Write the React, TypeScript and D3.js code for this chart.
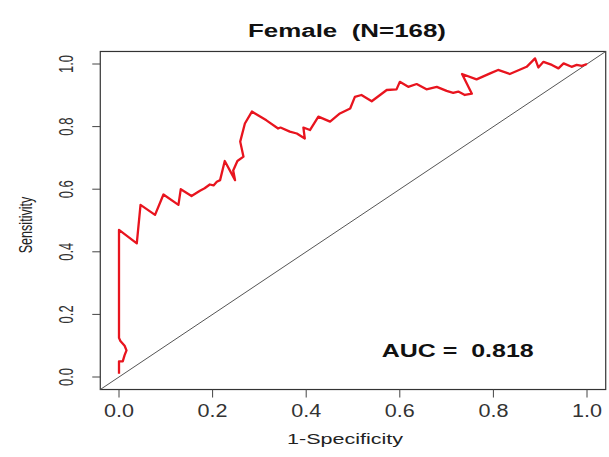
import React from "react";
import * as d3 from "d3";

const fpr: number[] = [0, 0, 0.008, 0.012, 0.016, 0.012, 0.003, 0, 0, 0.038, 0.046, 0.077, 0.095, 0.127, 0.132, 0.155, 0.173, 0.183, 0.194, 0.202, 0.209, 0.216, 0.226, 0.248, 0.244, 0.253, 0.266, 0.259, 0.269, 0.284, 0.315, 0.34, 0.345, 0.365, 0.38, 0.397, 0.394, 0.408, 0.426, 0.451, 0.472, 0.494, 0.504, 0.518, 0.54, 0.572, 0.593, 0.6, 0.618, 0.636, 0.657, 0.679, 0.7, 0.714, 0.725, 0.739, 0.754, 0.733, 0.764, 0.793, 0.81, 0.835, 0.871, 0.889, 0.896, 0.907, 0.925, 0.939, 0.95, 0.967, 0.978, 0.989, 1];
const tpr: number[] = [0.01, 0.05, 0.05, 0.07, 0.085, 0.1, 0.115, 0.125, 0.47, 0.427, 0.55, 0.518, 0.583, 0.55, 0.6, 0.578, 0.595, 0.603, 0.615, 0.612, 0.624, 0.629, 0.69, 0.629, 0.66, 0.69, 0.704, 0.752, 0.81, 0.848, 0.82, 0.794, 0.797, 0.784, 0.778, 0.762, 0.797, 0.789, 0.832, 0.816, 0.842, 0.858, 0.895, 0.901, 0.881, 0.917, 0.919, 0.943, 0.927, 0.936, 0.919, 0.927, 0.914, 0.908, 0.912, 0.901, 0.905, 0.968, 0.951, 0.97, 0.981, 0.968, 0.991, 1.018, 0.989, 1.007, 0.997, 0.986, 1.002, 0.991, 0.997, 0.994, 1];
const xTicks: number[] = [0, 0.2, 0.4, 0.6, 0.8, 1.0];
const yTicks: number[] = [0, 0.2, 0.4, 0.6, 0.8, 1.0];
const title = "Female  (N=168)";
const aucLabel = "AUC =  0.818";
const xLabel = "1-Specificity";
const yLabel = "Sensitivity";

export default function App() {
  const x = d3.scaleLinear().domain([0, 1]).range([119, 587]);
  const y = d3.scaleLinear().domain([0, 1]).range([377, 64]);
  const lo = -0.04, hi = 1.04;
  const pts: [number, number][] = fpr.map((f, i) => [f, tpr[i]]);
  const line = d3.line<[number, number]>().x(d => x(d[0])).y(d => y(d[1]));
  const font = "'Liberation Sans', Arial, Helvetica, sans-serif";
  return (
    <svg width={609} height={457} style={{ position: "absolute", left: 0, top: 0, background: "#fff" }} fontFamily={font}>
      <rect x={x(lo)} y={y(hi)} width={x(hi) - x(lo)} height={y(lo) - y(hi)} fill="none" stroke="#333" strokeWidth={1.2} />
      <line x1={x(lo)} y1={y(lo)} x2={x(hi)} y2={y(hi)} stroke="#555" strokeWidth={1} />
      <path d={line(pts) || ""} fill="none" stroke="#e8141e" strokeWidth={2.3} strokeLinejoin="round" />
      {xTicks.map(t => (
        <g key={"x" + t}>
          <line x1={x(t)} x2={x(t)} y1={y(lo)} y2={y(lo) + 8} stroke="#444" strokeWidth={1} />
          <text x={x(t) - 15} y={416.5} fontSize={18} fill="#333" textLength={30} lengthAdjust="spacingAndGlyphs">{t.toFixed(1)}</text>
        </g>
      ))}
      {yTicks.map(t => (
        <g key={"y" + t}>
          <line x1={x(lo) - 8} x2={x(lo)} y1={y(t)} y2={y(t)} stroke="#444" strokeWidth={1} />
          <text transform={`translate(72.5, ${y(t)}) scale(1.5, 1) rotate(-90)`} textAnchor="middle" fontSize={13} fill="#333">{t.toFixed(1)}</text>
        </g>
      ))}
      <text x={248} y={37} fontSize={18} fontWeight="bold" fill="#111" textLength={198} lengthAdjust="spacingAndGlyphs" style={{ whiteSpace: "pre" }}>{title}</text>
      <text x={381.7} y={356.7} fontSize={18.5} fontWeight="bold" fill="#111" textLength={152} lengthAdjust="spacingAndGlyphs" style={{ whiteSpace: "pre" }}>{aucLabel}</text>
      <text x={287} y={444} fontSize={15} fill="#222" textLength={116} lengthAdjust="spacingAndGlyphs">{xLabel}</text>
      <text transform={`translate(32, 225) scale(1.5, 1) rotate(-90)`} textAnchor="middle" fontSize={12.6} fill="#222">{yLabel}</text>
    </svg>
  );
}
